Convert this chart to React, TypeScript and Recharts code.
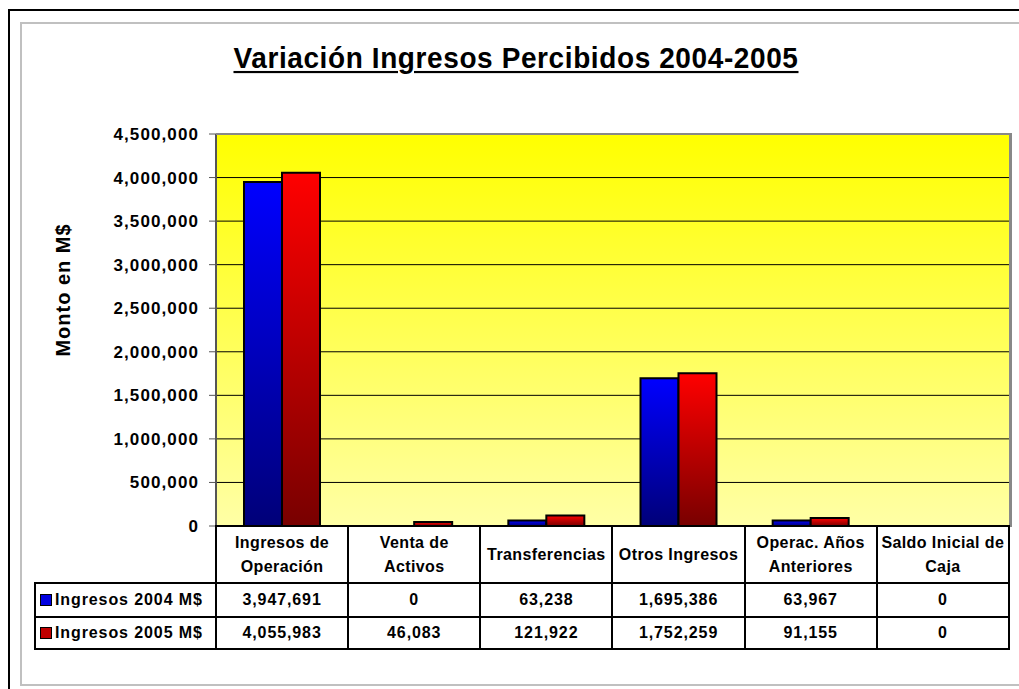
import React from 'react';
import { BarChart, Bar, XAxis, YAxis, CartesianGrid } from 'recharts';

const categories = ['Ingresos de Operación', 'Venta de Activos', 'Transferencias', 'Otros Ingresos', 'Operac. Años Anteriores', 'Saldo Inicial de Caja'];
const headerLines = [['Ingresos de', 'Operación'], ['Venta de', 'Activos'], ['Transferencias'], ['Otros Ingresos'], ['Operac. Años', 'Anteriores'], ['Saldo Inicial de', 'Caja']];
const ingresos2004 = [3947691, 0, 63238, 1695386, 63967, 0];
const ingresos2005 = [4055983, 46083, 121922, 1752259, 91155, 0];
const yTicks = [0, 500000, 1000000, 1500000, 2000000, 2500000, 3000000, 3500000, 4000000, 4500000];
const seriesNames = ['Ingresos 2004 M$', 'Ingresos 2005 M$'];
const title = 'Variación Ingresos Percibidos 2004-2005';
const yLabel = 'Monto en M$';

const data = categories.map((c, i) => ({ cat: c, v2004: ingresos2004[i], v2005: ingresos2005[i] }));

const fmt = (v: number) => v.toLocaleString('en-US');
const FONT = '"Liberation Sans", Arial, sans-serif';

const PLOT_L = 216;
const PLOT_R = 1009;
const PLOT_T = 134;
const PLOT_B = 526;

export default function App() {
  const colW = (PLOT_R - PLOT_L) / categories.length;
  const cellBase: React.CSSProperties = {
    border: '2px solid #000',
    textAlign: 'center',
    fontWeight: 'bold',
    fontSize: 16,
    letterSpacing: 0.4,
    fontFamily: FONT,
    padding: 0,
    background: '#fff',
  };
  return (
    <div style={{ position: 'absolute', left: 0, top: 0, width: 1019, height: 689, background: '#fff', overflow: 'hidden', fontFamily: FONT }}>
      {/* outer frames */}
      <div style={{ position: 'absolute', left: 8, top: 9, width: 1100, height: 800, borderLeft: '2px solid #000', borderTop: '2px solid #000' }} />
      <div style={{ position: 'absolute', left: 20, top: 22, width: 1100, height: 660, borderLeft: '2px solid #c0c0c0', borderTop: '2px solid #c0c0c0', borderBottom: '2px solid #c0c0c0' }} />
      {/* title */}
      <div style={{ position: 'absolute', left: 0, width: 1032, top: 42, textAlign: 'center', fontSize: 28, fontWeight: 'bold', textDecoration: 'underline', textDecorationThickness: 2, textUnderlineOffset: 3, letterSpacing: 0.6, transform: 'scaleY(1.08)' }}>
        {title}
      </div>
      {/* y label */}
      <div style={{ position: 'absolute', left: 63, top: 290, transform: 'translate(-50%, -50%) rotate(-90deg)', whiteSpace: 'nowrap', fontSize: 20, fontWeight: 'bold', letterSpacing: 1 }}>
        {yLabel}
      </div>
      <div style={{ position: 'absolute', left: 0, top: 0 }}>
        <BarChart
          width={1019}
          height={689}
          data={data}
          margin={{ top: PLOT_T, right: 1019 - PLOT_R, bottom: 689 - PLOT_B, left: 0 }}
          barSize={38}
          barGap={0}
        >
          <defs>
            <linearGradient id="bgGrad" x1="0" y1="0" x2="0" y2="1">
              <stop offset="0%" stopColor="#ffff00" />
              <stop offset="100%" stopColor="#ffffa6" />
            </linearGradient>
            <linearGradient id="blueGrad" x1="0" y1="0" x2="0" y2="1">
              <stop offset="0%" stopColor="#0000ff" />
              <stop offset="100%" stopColor="#000078" />
            </linearGradient>
            <linearGradient id="redGrad" x1="0" y1="0" x2="0" y2="1">
              <stop offset="0%" stopColor="#ff0000" />
              <stop offset="100%" stopColor="#780000" />
            </linearGradient>
          </defs>
          <CartesianGrid vertical={false} stroke="#000" strokeWidth={1} fill="url(#bgGrad)" fillOpacity={1} />
          <XAxis dataKey="cat" hide />
          <YAxis
            width={PLOT_L}
            domain={[0, 4500000]}
            ticks={yTicks}
            interval={0}
            tickFormatter={fmt}
            tickSize={7}
            tickMargin={10}
            axisLine={{ stroke: '#555', strokeWidth: 2 }}
            tickLine={{ stroke: '#555' }}
            tick={{ fill: '#000', fontSize: 17, fontWeight: 'bold', fontFamily: FONT, letterSpacing: 1.1 }}
          />
          <Bar dataKey="v2004" name={seriesNames[0]} fill="url(#blueGrad)" stroke="#000" strokeWidth={2} isAnimationActive={false} />
          <Bar dataKey="v2005" name={seriesNames[1]} fill="url(#redGrad)" stroke="#000" strokeWidth={2} isAnimationActive={false} />
        </BarChart>
      </div>
      {/* plot border top/right */}
      <div style={{ position: 'absolute', left: PLOT_L, top: PLOT_T - 1, width: PLOT_R - PLOT_L, height: PLOT_B - PLOT_T, borderTop: '2px solid #888', borderRight: '3px solid #888', pointerEvents: 'none' }} />
      {/* data table */}
      <table style={{ position: 'absolute', left: 34, top: PLOT_B - 1, borderCollapse: 'collapse', tableLayout: 'fixed' }}>
        <colgroup>
          <col style={{ width: PLOT_L - 35 }} />
          {categories.map((c) => (
            <col key={c} style={{ width: colW }} />
          ))}
        </colgroup>
        <tbody>
          <tr style={{ height: 57 }}>
            <td style={{ border: 'none', background: 'transparent' }} />
            {headerLines.map((lines, i) => (
              <td key={i} style={{ ...cellBase, lineHeight: '24px', whiteSpace: 'nowrap', letterSpacing: 0.4 }}>
                {lines.map((l, j) => (
                  <div key={j}>{l}</div>
                ))}
              </td>
            ))}
          </tr>
          {[ingresos2004, ingresos2005].map((vals, r) => (
            <tr key={r} style={{ height: r === 0 ? 34 : 32 }}>
              <td style={{ ...cellBase, textAlign: 'left', whiteSpace: 'nowrap', paddingLeft: 4, letterSpacing: 0.9 }}>
                <span style={{ display: 'inline-block', width: 10, height: 10, border: '1.5px solid #000', background: r === 0 ? '#0000e0' : '#c00000', marginRight: 3, verticalAlign: -1 }} />
                {seriesNames[r]}
              </td>
              {vals.map((v, i) => (
                <td key={i} style={{ ...cellBase, letterSpacing: 0.9 }}>{fmt(v)}</td>
              ))}
            </tr>
          ))}
        </tbody>
      </table>
    </div>
  );
}
